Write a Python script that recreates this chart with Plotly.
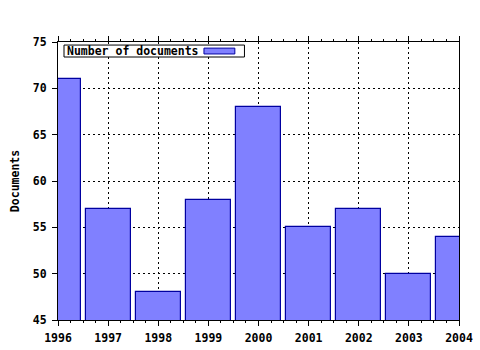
import plotly.graph_objects as go

years = [1996, 1997, 1998, 1999, 2000, 2001, 2002, 2003, 2004]
documents = [71, 57, 48, 58, 68, 55, 57, 50, 54]
series_name = "Number of documents"
y_title = "Documents"

FONT = "DejaVu Sans Mono"
fill = "#8080FF"
edge = "#0000A0"

fig = go.Figure()
fig.add_trace(go.Bar(
    x=years, y=documents, name=series_name, width=0.9,
    marker=dict(color=fill, line=dict(color=edge, width=1.2)),
    showlegend=False,
))

fig.update_layout(
    width=480, height=350,
    margin=dict(l=58, r=21, t=42, b=30),
    paper_bgcolor="white", plot_bgcolor="white",
    font=dict(family=FONT, size=11, color="black"),
    bargap=0,
)
fig.update_xaxes(
    range=[1996, 2004], tickvals=years, ticktext=[str(y) for y in years],
    automargin=False,
    showline=True, linecolor="black", linewidth=1, mirror="ticks",
    ticks="outside", ticklen=5, tickcolor="black", ticklabelstandoff=2,
    tickfont=dict(family=FONT, size=11.5, color="black", weight="bold"),
    showgrid=True, gridcolor="black", gridwidth=1, griddash="2px,3px",
    minor=dict(dtick=0.25, tick0=1996, ticks="outside", ticklen=2, tickcolor="black", showgrid=False),
    zeroline=False, fixedrange=True,
)
fig.update_yaxes(
    range=[45, 75], dtick=5, tick0=45,
    automargin=False,
    showline=True, linecolor="black", linewidth=1, mirror=True,
    ticks="outside", ticklen=5, tickcolor="black", ticklabelstandoff=3,
    tickfont=dict(family=FONT, size=11.5, color="black", weight="bold"),
    showgrid=True, gridcolor="black", gridwidth=1, griddash="2px,3px",
    title=dict(text=y_title, font=dict(family=FONT, size=11.5, color="black", weight="bold"), standoff=10),
    zeroline=False, fixedrange=True,
)

# custom legend (text on the left, swatch on the right)
fig.add_shape(type="rect", xref="paper", yref="paper", x0=0.015, x1=0.465, y0=0.946, y1=0.989,
              line=dict(color="black", width=1), fillcolor="white", layer="above")
fig.add_shape(type="rect", xref="paper", yref="paper", x0=0.364, x1=0.441, y0=0.957, y1=0.978,
              line=dict(color=edge, width=1), fillcolor=fill, layer="above")
fig.add_annotation(text=series_name, xref="paper", yref="paper", x=0.017, y=0.9675,
                   xanchor="left", yanchor="middle", showarrow=False,
                   font=dict(family=FONT, size=11.5, color="black", weight="bold"))

fig.write_html("out.html")
